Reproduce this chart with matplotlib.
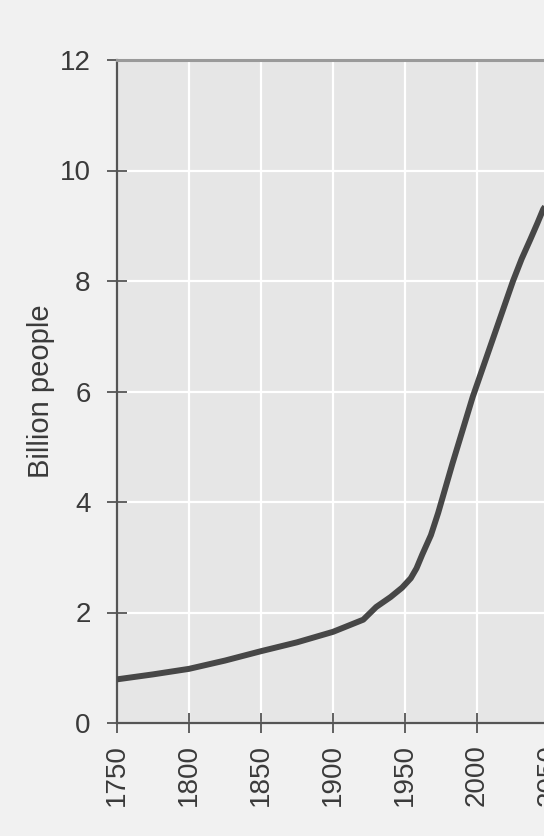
import matplotlib
matplotlib.use("Agg")
import matplotlib.pyplot as plt
import numpy as np

years = [1750, 1775, 1800, 1825, 1850, 1875, 1900, 1921, 1930, 1940, 1948, 1954, 1958, 1962, 1968, 1973, 1983, 1997, 2011, 2025, 2031, 2037, 2042, 2046, 2050]
population = [0.79, 0.88, 0.98, 1.13, 1.3, 1.46, 1.65, 1.87, 2.1, 2.28, 2.45, 2.62, 2.8, 3.05, 3.4, 3.8, 4.7, 5.9, 6.95, 8.0, 8.4, 8.75, 9.05, 9.3, 9.45]
x_ticks = [1750, 1800, 1850, 1900, 1950, 2000, 2050]
y_ticks = [0, 2, 4, 6, 8, 10, 12]
y_label = "Billion people"

plt.rcParams['font.family'] = ['Liberation Sans', 'DejaVu Sans']

W, H = 544, 836
fig = plt.figure(figsize=(W / 100, H / 100), dpi=100, facecolor='#f1f1f1')
left_px, right_px, top_px, bot_px = 117, 117 + 1.44 * 350, 60, 723
ax = fig.add_axes([left_px / W, (H - bot_px) / H, (right_px - left_px) / W, (bot_px - top_px) / H])
ax.set_facecolor('#e6e6e6')
ax.set_xlim(1750, 2100)
ax.set_ylim(0, 12)

ax.set_xticks(x_ticks)
ax.set_yticks(y_ticks)
ax.grid(True, color='white', linewidth=1.6)
ax.set_axisbelow(True)

ax.plot(years, population, color='#474747', linewidth=4.3, solid_capstyle='butt',
        solid_joinstyle='round', zorder=3)

for s in ['left', 'bottom']:
    ax.spines[s].set_color('#555555')
    ax.spines[s].set_linewidth(1.6)
ax.spines['top'].set_color('#9a9a9a')
ax.spines['top'].set_linewidth(2.2)
ax.spines['right'].set_visible(False)

ax.tick_params(axis='both', direction='inout', length=14, width=1.3, color='#555555',
               labelsize=20, labelcolor='#3a3a3a')
ax.tick_params(axis='y', pad=12)
ax.tick_params(axis='x', pad=8, labelrotation=90)

ax.set_ylabel(y_label, fontsize=21, color='#3a3a3a', labelpad=3)

fig.savefig('out.png', dpi=100, facecolor=fig.get_facecolor())
